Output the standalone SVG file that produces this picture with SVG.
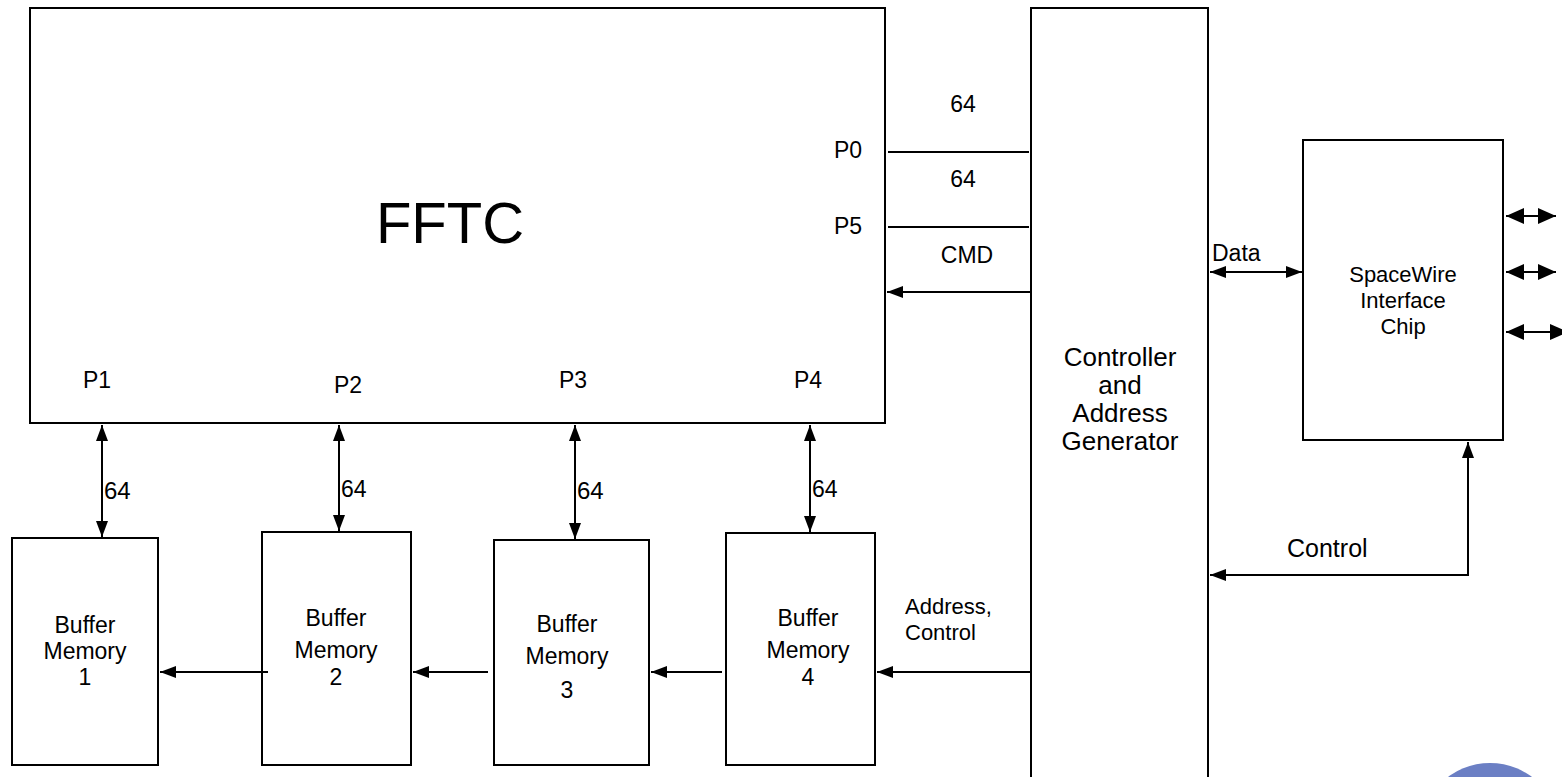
<svg xmlns="http://www.w3.org/2000/svg" width="1562" height="777" viewBox="0 0 1562 777">
<style>
.box{fill:#fff;stroke:#000;stroke-width:2}
.ln{stroke:#000;stroke-width:2;fill:none}
text{font-family:"Liberation Sans",Arial,sans-serif;font-size:22px;fill:#000}
.c{text-anchor:middle}
.b{font-size:23px}
.p{font-size:23px}
.n{font-size:24px}
.g{font-size:26px}
</style>
<defs>
<marker id="ab" viewBox="0 0 16 12" refX="16" refY="6" markerWidth="16" markerHeight="12" markerUnits="userSpaceOnUse" orient="auto-start-reverse"><path d="M0,0 L16,6 L0,12 z" fill="#000"/></marker>
<marker id="abl" viewBox="0 0 18 16" refX="18" refY="8" markerWidth="18" markerHeight="16" markerUnits="userSpaceOnUse" orient="auto-start-reverse"><path d="M0,0 L18,8 L0,16 z" fill="#000"/></marker>
</defs>
<rect width="1562" height="777" fill="#fff"/>
<g id="fftc">
<rect class="box" x="30" y="8" width="855" height="415"/>
<text class="c" x="450" y="243" style="font-size:58px">FFTC</text>
<text class="p" x="834" y="158">P0</text>
<text class="p" x="834" y="234">P5</text>
<text class="p" x="83" y="388">P1</text>
<text class="p" x="334" y="393">P2</text>
<text class="p" x="559" y="388">P3</text>
<text class="p" x="794" y="388">P4</text>
</g>
<g id="controller">
<rect class="box" x="1031" y="8" width="177" height="780"/>
<text class="c g" x="1120" y="366">Controller</text>
<text class="c g" x="1120" y="394">and</text>
<text class="c g" x="1120" y="422">Address</text>
<text class="c g" x="1120" y="450">Generator</text>
</g>
<g id="spacewire">
<rect class="box" x="1303" y="140" width="200" height="300"/>
<text class="c" x="1403" y="282">SpaceWire</text>
<text class="c" x="1403" y="308">Interface</text>
<text class="c" x="1403" y="334">Chip</text>
</g>
<g id="buf1">
<rect class="box" x="12" y="538" width="146" height="227"/>
<text class="c b" x="85" y="633">Buffer</text>
<text class="c b" x="85" y="659">Memory</text>
<text class="c b" x="85" y="685">1</text>
</g>
<g id="buf2">
<rect class="box" x="262" y="532" width="149" height="233"/>
<text class="c b" x="336" y="626">Buffer</text>
<text class="c b" x="336" y="658">Memory</text>
<text class="c b" x="336" y="685">2</text>
</g>
<g id="buf3">
<rect class="box" x="494" y="540" width="155" height="225"/>
<text class="c b" x="567" y="632">Buffer</text>
<text class="c b" x="567" y="664">Memory</text>
<text class="c b" x="567" y="698">3</text>
</g>
<g id="buf4">
<rect class="box" x="726" y="533" width="149" height="232"/>
<text class="c b" x="808" y="626">Buffer</text>
<text class="c b" x="808" y="658">Memory</text>
<text class="c b" x="808" y="685">4</text>
</g>
<g id="blob"><circle cx="1490" cy="833" r="70" fill="#6b7fc4"/></g>
<g id="connectors">
<line class="ln" x1="888" y1="152" x2="1029" y2="152"/>
<line class="ln" x1="888" y1="227" x2="1029" y2="227"/>
<line class="ln" x1="1030" y1="292" x2="887" y2="292" marker-end="url(#ab)"/>
<text class="c p" x="963" y="112">64</text>
<text class="c p" x="963" y="187">64</text>
<text class="c p" x="967" y="263">CMD</text>
<line class="ln" x1="1210" y1="272" x2="1302" y2="272" marker-start="url(#ab)" marker-end="url(#ab)"/>
<text class="p" x="1212" y="261">Data</text>
<line class="ln" x1="1506" y1="216" x2="1556" y2="216" marker-start="url(#abl)" marker-end="url(#abl)"/>
<line class="ln" x1="1506" y1="272" x2="1556" y2="272" marker-start="url(#abl)" marker-end="url(#abl)"/>
<line class="ln" x1="1506" y1="332" x2="1568" y2="332" marker-start="url(#abl)" marker-end="url(#abl)"/>
<polyline class="ln" points="1468,442 1468,575 1210,575" marker-start="url(#ab)" marker-end="url(#ab)"/>
<text style="font-size:25px" x="1287" y="557">Control</text>
<line class="ln" x1="102" y1="425" x2="102" y2="537" marker-start="url(#ab)" marker-end="url(#ab)"/>
<line class="ln" x1="339" y1="425" x2="339" y2="531" marker-start="url(#ab)" marker-end="url(#ab)"/>
<line class="ln" x1="575" y1="425" x2="575" y2="539" marker-start="url(#ab)" marker-end="url(#ab)"/>
<line class="ln" x1="810" y1="425" x2="810" y2="532" marker-start="url(#ab)" marker-end="url(#ab)"/>
<text class="n" x="104" y="499">64</text>
<text class="p" x="341" y="497">64</text>
<text class="n" x="577" y="499">64</text>
<text class="p" x="812" y="497">64</text>
<line class="ln" x1="268" y1="672" x2="160" y2="672" marker-end="url(#ab)"/>
<line class="ln" x1="488" y1="672" x2="413" y2="672" marker-end="url(#ab)"/>
<line class="ln" x1="722" y1="672" x2="651" y2="672" marker-end="url(#ab)"/>
<line class="ln" x1="1030" y1="672" x2="877" y2="672" marker-end="url(#ab)"/>
<text x="905" y="614">Address,</text>
<text x="905" y="640">Control</text>
</g>
</svg>
